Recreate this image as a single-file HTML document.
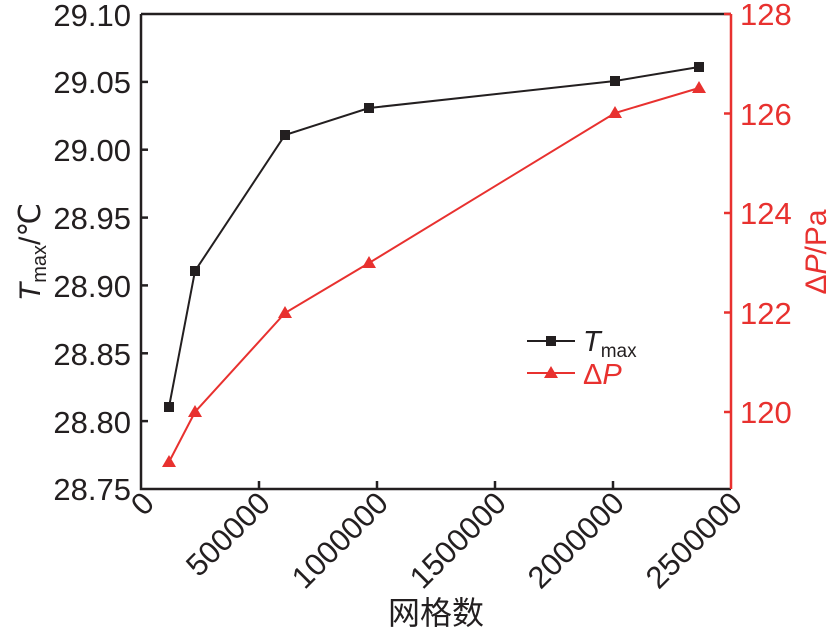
<!DOCTYPE html>
<html><head><meta charset="utf-8"><style>body{margin:0;background:#fff}</style></head>
<body>
<svg width="836" height="634" xmlns="http://www.w3.org/2000/svg" font-family="Liberation Sans, Arial, sans-serif">
<g stroke="#231f20" stroke-width="2.5" fill="none">
<polyline points="141,14 141,489 731,489"/>
<line x1="141" y1="14" x2="731" y2="14"/>
<line x1="141" y1="81.9" x2="148" y2="81.9"/><line x1="141" y1="149.7" x2="148" y2="149.7"/>
<line x1="141" y1="217.6" x2="148" y2="217.6"/><line x1="141" y1="285.4" x2="148" y2="285.4"/>
<line x1="141" y1="353.3" x2="148" y2="353.3"/><line x1="141" y1="421.1" x2="148" y2="421.1"/>
<line x1="259" y1="489" x2="259" y2="481"/><line x1="377" y1="489" x2="377" y2="481"/>
<line x1="495" y1="489" x2="495" y2="481"/><line x1="613" y1="489" x2="613" y2="481"/>
</g>
<g stroke="#e8312f" stroke-width="2.5" fill="none">
<line x1="731" y1="14" x2="731" y2="489"/>
<line x1="724" y1="14" x2="731" y2="14"/><line x1="724" y1="113.5" x2="731" y2="113.5"/>
<line x1="724" y1="213" x2="731" y2="213"/><line x1="724" y1="312.5" x2="731" y2="312.5"/>
<line x1="724" y1="412" x2="731" y2="412"/>
</g>
<g font-size="31" fill="#231f20" text-anchor="end">
<text x="131" y="26">29.10</text><text x="131" y="93">29.05</text><text x="131" y="161">29.00</text>
<text x="131" y="229">28.95</text><text x="131" y="297">28.90</text><text x="131" y="365">28.85</text>
<text x="131" y="433">28.80</text><text x="131" y="500">28.75</text>
</g>
<g font-size="31" fill="#e8312f">
<text x="740" y="25">128</text><text x="740" y="125">126</text><text x="740" y="224">124</text>
<text x="740" y="324">122</text><text x="740" y="423">120</text>
</g>
<g font-size="31" fill="#231f20" text-anchor="end">
<text transform="translate(156,505) rotate(-45)">0</text>
<text transform="translate(272,505) rotate(-45)">500000</text>
<text transform="translate(390,505) rotate(-45)">1000000</text>
<text transform="translate(508,505) rotate(-45)">1500000</text>
<text transform="translate(626,505) rotate(-45)">2000000</text>
<text transform="translate(744,505) rotate(-45)">2500000</text>
</g>
<text x="436" y="624" font-size="32" text-anchor="middle" font-family="Liberation Sans, Noto Sans CJK SC, sans-serif" fill="#231f20">网格数</text>
<text transform="translate(40,252) rotate(-90)" font-size="30" text-anchor="middle" fill="#231f20"><tspan font-style="italic">T</tspan><tspan font-size="20" dy="6">max</tspan><tspan dy="-6">/℃</tspan></text>
<text transform="translate(826,252) rotate(-90)" font-size="30" text-anchor="middle" fill="#e8312f">Δ<tspan font-style="italic">P</tspan>/Pa</text>
<polyline points="169,407 195,271 285,135 369,108 615,81 699,67" fill="none" stroke="#231f20" stroke-width="2"/>
<g fill="#231f20">
<rect x="164" y="402" width="10" height="10"/><rect x="190" y="266" width="10" height="10"/>
<rect x="280" y="130" width="10" height="10"/><rect x="364" y="103" width="10" height="10"/>
<rect x="610" y="76" width="10" height="10"/><rect x="694" y="62" width="10" height="10"/>
</g>
<polyline points="169,462 195,412 285,313 369,263 615,113 699,88" fill="none" stroke="#e8312f" stroke-width="2"/>
<g fill="#e8312f">
<polygon points="169,455 162,467 176,467"/><polygon points="195,405 188,417 202,417"/>
<polygon points="285,306 278,318 292,318"/><polygon points="369,256 362,268 376,268"/>
<polygon points="615,106 608,118 622,118"/><polygon points="699,81 692,93 706,93"/>
</g>
<line x1="527" y1="341" x2="575" y2="341" stroke="#231f20" stroke-width="2"/>
<rect x="546" y="336" width="10" height="10" fill="#231f20"/>
<text x="583" y="351" font-size="29" fill="#231f20"><tspan font-style="italic">T</tspan><tspan font-size="19" dy="6">max</tspan></text>
<line x1="527" y1="373" x2="575" y2="373" stroke="#e8312f" stroke-width="2"/>
<polygon points="551,366 544,378 558,378" fill="#e8312f"/>
<text x="583" y="384" font-size="29" fill="#e8312f">Δ<tspan font-style="italic">P</tspan></text>
</svg>
</body></html>
